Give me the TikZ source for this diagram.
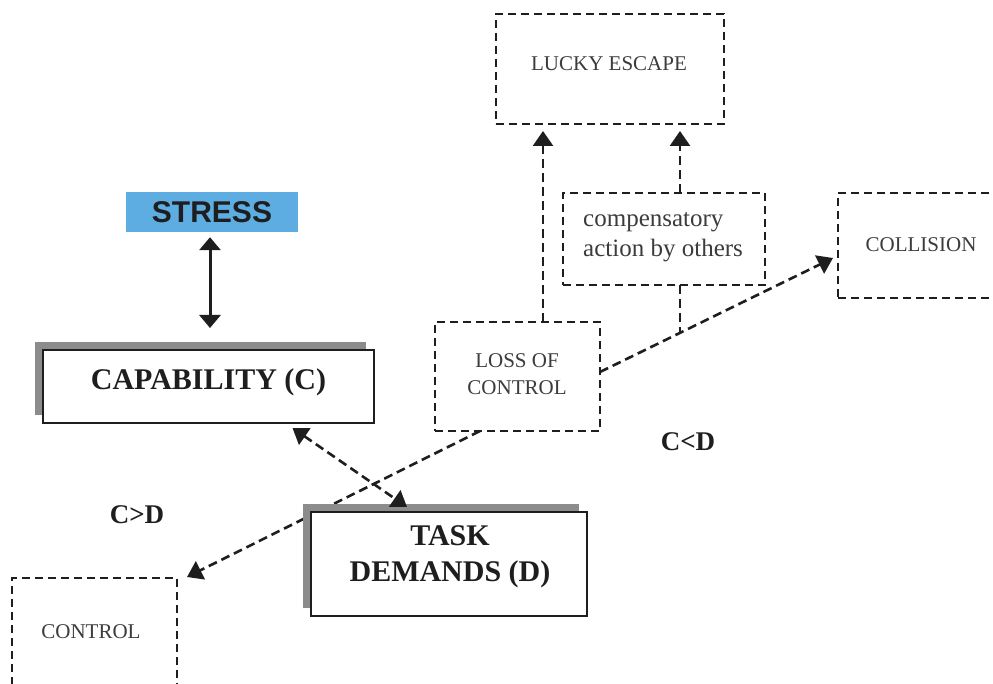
\documentclass[tikz,border=0pt]{standalone}
\usepackage{fontspec}
\setmainfont{Liberation Serif}
\setsansfont{Liberation Sans}
\usetikzlibrary{arrows.meta,shadows}

\definecolor{stressblue}{RGB}{93,173,226}
\definecolor{inkdark}{RGB}{30,30,30}
\definecolor{inkgray}{RGB}{60,60,60}
\definecolor{shadowgray}{RGB}{140,140,140}

\begin{document}
\begin{tikzpicture}[x=1pt,y=-1pt,
  >={Triangle[length=15pt,width=20pt]},
  mainbox/.style={draw=inkdark, line width=1.5pt, fill=white, inner sep=0pt, outer sep=0pt,
    general shadow={fill=shadowgray, shadow xshift=-8pt, shadow yshift=8pt}},
  dashbox/.style={draw=inkdark, line width=1.8pt, dash pattern=on 8pt off 5pt,
    fill=white, inner sep=0pt, outer sep=0pt},
  boldtxt/.style={font=\bfseries\fontsize{30}{36}\selectfont, text=inkdark, align=center, inner sep=0pt},
  captxt/.style={font=\fontsize{21}{27}\selectfont, text=inkgray, align=center, inner sep=0pt},
  lowtxt/.style={font=\fontsize{25}{30}\selectfont, text=inkgray, align=left, inner sep=0pt},
  reltxt/.style={font=\bfseries\fontsize{27}{32}\selectfont, text=inkdark, inner sep=0pt},
  conn/.style={draw=inkdark, line width=2.6pt, dash pattern=on 9pt off 5pt},
  solidarrow/.style={draw=inkdark, line width=3pt,
    {Triangle[length=13pt,width=21pt]}-{Triangle[length=13pt,width=21pt]}}
]
\useasboundingbox (0,0) rectangle (993,684);
\clip (0,0) rectangle (993,684);

% stress label
\node[fill=stressblue, minimum width=172pt, minimum height=40pt, inner sep=0pt,
  font=\sffamily\bfseries\fontsize{30}{34}\selectfont, text=inkdark] (stress) at (212,212) {STRESS};

% capability box with shadow
\node[mainbox, minimum width=331pt, minimum height=73pt] (cap) at (208.5,386.5) {};
\node[boldtxt] (captxt) at (208.5,382) {CAPABILITY (C)};

% outcome boxes
\node[dashbox, minimum width=228pt, minimum height=110pt] (lucky) at (610,69) {};
\node[captxt] (luckytxt) at (609,64) {LUCKY ESCAPE};

\node[dashbox, minimum width=202pt, minimum height=92pt] (comp) at (664,239) {};
\node[lowtxt, anchor=west] (comptxt) at (583,237.5) {compensatory\\action by others};

\node[dashbox, minimum width=166pt, minimum height=105pt] (coll) at (921,245.5) {};
\node[captxt] (colltxt) at (921,245) {COLLISION};

\node[dashbox, minimum width=165pt, minimum height=109pt] (loss) at (517.5,376.5) {};
\node[captxt] (losstxt) at (517,374) {LOSS OF\\CONTROL};

\node[dashbox, minimum width=165pt, minimum height=130pt] (ctrl) at (94.5,643) {};
\node[captxt] (ctrltxt) at (91,632) {CONTROL};

% this connector runs behind the task-demands box
\draw[conn,->] ([xshift=-37.5pt]loss.south) -- ([xshift=10pt,yshift=1pt]ctrl.north east);

% task demands box with shadow
\node[mainbox, minimum width=276pt, minimum height=104pt] (task) at (449,564) {};
\node[boldtxt] (tasktxt) at (450,557) {TASK\\DEMANDS (D)};

% relation labels
\node[reltxt] (cltd) at (688,442) {C<D};
\node[reltxt] (cgtd) at (137,515) {C>D};

% junction on the path to collision
\coordinate (junc) at (680,333);

% connectors
\draw[solidarrow] ([xshift=-2pt,yshift=-5pt]stress.south) -- ([xshift=1.5pt,yshift=22pt]cap.north);

\draw[conn,<->] ([xshift=84pt,yshift=-5pt]cap.south) -- ([xshift=-42pt,yshift=5pt]task.north);

\draw[conn,->] ([xshift=25.5pt]loss.north) -- ([xshift=-67pt,yshift=-7pt]lucky.south);
\draw[conn,->] ([xshift=16pt]comp.north) -- ([xshift=70pt,yshift=-7pt]lucky.south);
\draw[conn] ([xshift=16pt]comp.south) -- (junc);

\draw[conn,->] ([yshift=4.5pt]loss.east) -- ([xshift=-5pt,yshift=-12.5pt]coll.west);
\end{tikzpicture}
\end{document}
